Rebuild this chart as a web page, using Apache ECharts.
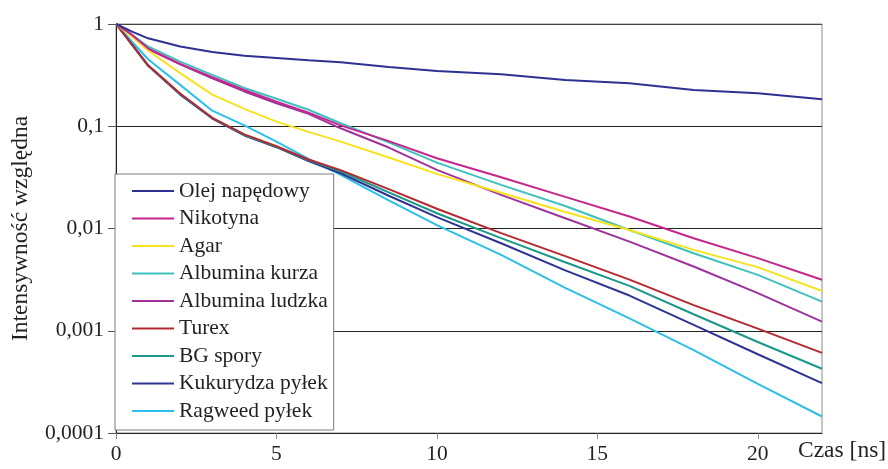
<!DOCTYPE html>
<html>
<head>
<meta charset="utf-8">
<script src="https://cdn.jsdelivr.net/npm/echarts@6/dist/echarts.min.js"></script>
<style>
html,body{margin:0;padding:0;background:#fff;}
#chart{width:888px;height:469px;}
</style>
</head>
<body>
<div id="chart"></div>
<script>
const times = [0, 0.5, 1, 2, 3, 4, 5, 6, 7, 8.5, 10, 12, 14, 16, 18, 20, 22];

const olejNapedowy = [1, 0.841, 0.724, 0.603, 0.531, 0.490, 0.466, 0.442, 0.422, 0.380, 0.347, 0.322, 0.284, 0.263, 0.226, 0.210, 0.184];
const nikotyna = [1, 0.782, 0.578, 0.407, 0.302, 0.226, 0.174, 0.136, 0.102, 0.0716, 0.0486, 0.0317, 0.0204, 0.0131, 0.00804, 0.00513, 0.00315];
const agar = [1, 0.751, 0.550, 0.331, 0.204, 0.148, 0.111, 0.0881, 0.0708, 0.0495, 0.0342, 0.0224, 0.0145, 0.00968, 0.00618, 0.00419, 0.00245];
const albuminaKurza = [1, 0.785, 0.603, 0.429, 0.318, 0.237, 0.186, 0.145, 0.107, 0.0695, 0.0441, 0.0267, 0.0166, 0.00968, 0.00573, 0.00352, 0.00193];
const albuminaLudzka = [1, 0.782, 0.569, 0.403, 0.295, 0.219, 0.168, 0.132, 0.0955, 0.0619, 0.0374, 0.0213, 0.0126, 0.00745, 0.00425, 0.00233, 0.00123];
const turex = [1, 0.631, 0.394, 0.209, 0.121, 0.0832, 0.0638, 0.0473, 0.0372, 0.0243, 0.0156, 0.009, 0.00537, 0.00316, 0.00178, 0.00105, 0.000608];
const bgSpory = [1, 0.631, 0.394, 0.207, 0.120, 0.0822, 0.0631, 0.0468, 0.0363, 0.0226, 0.0141, 0.00804, 0.00468, 0.00275, 0.00145, 0.000776, 0.000425];
const kukurydzaPylek = [1, 0.624, 0.390, 0.204, 0.119, 0.0813, 0.0624, 0.0457, 0.0347, 0.0209, 0.0129, 0.00718, 0.00389, 0.00221, 0.00114, 0.000589, 0.000308];
const ragweedPylek = [1, 0.671, 0.452, 0.254, 0.142, 0.102, 0.0708, 0.0479, 0.0335, 0.0188, 0.0108, 0.00552, 0.00263, 0.00132, 0.000646, 0.000302, 0.000145];

const seriesNames = ['Olej napędowy', 'Nikotyna', 'Agar', 'Albumina kurza', 'Albumina ludzka', 'Turex', 'BG spory', 'Kukurydza pyłek', 'Ragweed pyłek'];
const seriesValues = [olejNapedowy, nikotyna, agar, albuminaKurza, albuminaLudzka, turex, bgSpory, kukurydzaPylek, ragweedPylek];
const seriesColors = ['#2E3192', '#C4268C', '#F7E21E', '#3EC1BE', '#9E339B', '#B52A30', '#1B988A', '#2D3494', '#2CBFEA'];

const xTicks = [0, 5, 10, 15, 20];
const yAxisTitle = 'Intensywność względna';
const xAxisTitle = 'Czas [ns]';

const FONT = '"Liberation Serif", "DejaVu Serif", serif';
const TXT = '#231F20';

const chart = echarts.init(document.getElementById('chart'), null, {renderer: 'canvas'});

const series = seriesNames.map((name, i) => ({
  name: name,
  type: 'line',
  data: times.map((t, j) => [t, seriesValues[i][j]]),
  symbol: 'none',
  showSymbol: false,
  smooth: false,
  lineStyle: {color: seriesColors[i], width: 2},
  itemStyle: {color: seriesColors[i]},
  emphasis: {disabled: true},
  z: 2 + (seriesNames.length - i) * 0.01
}));

chart.setOption({
  animation: false,
  backgroundColor: '#fff',
  textStyle: {fontFamily: FONT, color: TXT},
  grid: {
    left: 116, right: 66, top: 24, bottom: 36,
    show: true, borderColor: '#8a8a8a', borderWidth: 1, backgroundColor: 'transparent'
  },
  legend: {
    orient: 'vertical',
    left: 115, top: 174,
    padding: [6, 6, 8, 17],
    backgroundColor: '#fff',
    borderColor: '#7a7a7a', borderWidth: 1, borderRadius: 0,
    icon: 'rect',
    itemWidth: 42, itemHeight: 2, itemGap: 5.5,
    textStyle: {fontFamily: FONT, fontSize: 21.5, color: TXT},
    data: seriesNames,
    selectedMode: false,
    z: 10
  },
  xAxis: {
    type: 'value', min: 0, max: 22,
    axisLine: {show: true, onZero: false, lineStyle: {color: '#222', width: 1}},
    axisTick: {show: true, length: 6, lineStyle: {color: '#888'}, customValues: xTicks},
    axisLabel: {fontFamily: FONT, fontSize: 21.5, color: TXT, margin: 10, customValues: xTicks},
    splitLine: {show: false}
  },
  yAxis: {
    type: 'log', logBase: 10, min: 0.0001, max: 1,
    name: yAxisTitle,
    nameLocation: 'middle',
    nameGap: 83,
    nameTextStyle: {fontFamily: FONT, fontSize: 23.5, color: TXT},
    axisLine: {show: true, lineStyle: {color: '#222', width: 1}},
    axisTick: {show: true, length: 8, lineStyle: {color: '#555'}},
    axisLabel: {
      fontFamily: FONT, fontSize: 21.5, color: TXT, margin: 12,
      formatter: v => String(Number(Number(v).toPrecision(1))).replace('.', ',')
    },
    splitLine: {show: true, lineStyle: {color: ['#222', '#222', '#222', '#222', '#444'], width: 1}},
    minorTick: {show: false}
  },
  graphic: [{
    type: 'text',
    left: 798, top: 439,
    style: {text: xAxisTitle, font: '23.5px ' + FONT, fill: TXT}
  }],
  series: series
});
</script>
</body>
</html>
